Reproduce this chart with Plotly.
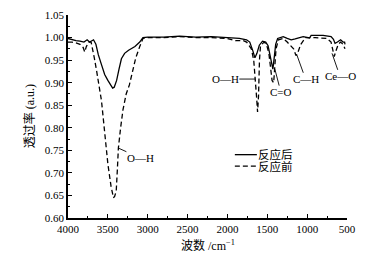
import plotly.graph_objects as go

# 反应后 (after reaction) - solid
wn_after = [4000, 3950, 3900, 3850, 3800, 3760, 3730, 3700, 3680, 3650, 3620, 3580, 3540, 3500,
            3460, 3440, 3420, 3390, 3360, 3330, 3290, 3240, 3160, 3100, 3060, 3000, 2800, 2600,
            2400, 2200, 2000, 1850, 1760, 1720, 1680, 1655, 1630, 1600, 1560, 1520, 1490, 1460,
            1430, 1410, 1395, 1370, 1300, 1250, 1200, 1150, 1050, 970, 950, 800, 700, 670, 650,
            620, 580, 550, 530, 525]
tr_after = [0.998, 0.995, 0.993, 0.992, 0.990, 0.995, 0.990, 0.993, 0.995, 0.985, 0.962, 0.940,
            0.918, 0.905, 0.893, 0.888, 0.890, 0.905, 0.930, 0.953, 0.965, 0.972, 0.980, 0.990,
            1.000, 1.001, 1.001, 1.003, 1.001, 1.002, 1.000, 0.998, 0.995, 0.990, 0.970, 0.955,
            0.965, 0.983, 0.992, 0.990, 0.982, 0.955, 0.930, 0.960, 0.985, 0.998, 1.002, 0.998,
            0.995, 0.997, 1.002, 0.999, 1.005, 1.005, 1.002, 0.996, 0.987, 0.990, 0.995, 0.990,
            0.990, 0.985]

# 反应前 (before reaction) - dashed
wn_before = [4000, 3950, 3900, 3850, 3810, 3790, 3770, 3740, 3710, 3690, 3670, 3640, 3610, 3580,
             3540, 3500, 3460, 3430, 3415, 3395, 3380, 3368, 3340, 3310, 3270, 3230, 3190, 3150,
             3100, 3060, 3000, 2800, 2600, 2400, 2200, 2000, 1900, 1800, 1760, 1700, 1670, 1650,
             1635, 1622, 1610, 1598, 1585, 1540, 1510, 1480, 1460, 1440, 1420, 1405, 1390, 1360,
             1300, 1250, 1210, 1170, 1140, 1120, 1080, 1020, 900, 750, 700, 680, 660, 640, 610,
             580, 550, 525]
tr_before = [0.990, 0.990, 0.988, 0.985, 0.978, 0.968, 0.980, 0.990, 0.990, 0.975, 0.955, 0.925,
             0.895, 0.860, 0.790, 0.720, 0.670, 0.645, 0.648, 0.660, 0.710, 0.755, 0.800, 0.840,
             0.875, 0.895, 0.925, 0.955, 0.980, 0.998, 1.000, 1.000, 1.002, 1.000, 1.000, 0.998,
             0.993, 0.993, 0.990, 0.975, 0.950, 0.910, 0.870, 0.835, 0.870, 0.950, 0.982, 0.990,
             0.985, 0.965, 0.930, 0.905, 0.900, 0.940, 0.975, 0.995, 0.998, 0.990, 0.982, 0.975,
             0.960, 0.965, 0.985, 1.000, 1.000, 0.998, 0.990, 0.972, 0.958, 0.970, 0.985, 0.990,
             0.985, 0.975]

x_ticks = [4000, 3500, 3000, 2500, 2000, 1500, 1000, 500]
y_ticks = [0.60, 0.65, 0.70, 0.75, 0.80, 0.85, 0.90, 0.95, 1.00, 1.05]

series_names = ["反应后", "反应前"]

# annotation labels: (text, wavenumber, transmittance, dx, dy)
labels = [
    ("O—H", 3368, 0.755, 22, 10),
    ("O—H", 1650, 0.908, -30, 0),
    ("C=O", 1405, 0.930, 6, 23),
    ("C—H", 1132, 0.963, 9, 25),
    ("Ce—O", 688, 0.965, 8, 23),
]

FONT = "Liberation Serif, Noto Sans CJK SC, serif"
styles = [dict(color="black", width=1.3), dict(color="black", width=1.3, dash="5px,3px")]

fig = go.Figure()
fig.add_trace(go.Scatter(x=wn_after, y=tr_after, mode="lines", name=series_names[0],
                         line=styles[0], showlegend=False))
fig.add_trace(go.Scatter(x=wn_before, y=tr_before, mode="lines", name=series_names[1],
                         line=styles[1], showlegend=False))

for text, x, y, dx, dy in labels:
    fig.add_annotation(x=x, y=y, text=text, showarrow=True, arrowhead=0, arrowwidth=0.9,
                       arrowcolor="black", ax=dx, ay=dy, axref="pixel", ayref="pixel",
                       font=dict(family=FONT, size=11, color="black"), standoff=0, borderpad=0)

# compact manual legend (paper coords)
leg_rows = [0.312, 0.256]
for name, style, ly in zip(series_names, styles, leg_rows):
    fig.add_shape(type="line", xref="paper", yref="paper", x0=0.598, x1=0.677, y0=ly, y1=ly,
                  line=style)
    fig.add_annotation(xref="paper", yref="paper", x=0.679, y=ly, text=name, showarrow=False,
                       xanchor="left", yanchor="middle", font=dict(family=FONT, size=11.5),
                       borderpad=0)

# axis titles
fig.add_annotation(xref="paper", yref="paper", x=0.5, y=-0.135, text="波数 /cm<sup>−1</sup>",
                   showarrow=False, xanchor="center", yanchor="middle",
                   font=dict(family=FONT, size=12))
fig.add_annotation(xref="paper", yref="paper", x=-0.137, y=0.5, text="透过率 (a.u.)",
                   showarrow=False, textangle=-90, xanchor="center", yanchor="middle",
                   font=dict(family=FONT, size=12))

fig.update_layout(
    width=383, height=261,
    margin=dict(l=68, r=36, t=15, b=43, autoexpand=False),
    paper_bgcolor="white", plot_bgcolor="white",
    font=dict(family=FONT, size=11, color="black"),
    showlegend=False,
    xaxis=dict(range=[4000, 500], autorange=False, tickvals=x_ticks, automargin=False,
               ticks="inside", ticklen=4, tickwidth=1, tickcolor="black",
               showline=True, linecolor="black", linewidth=1.5, showgrid=False, zeroline=False,
               minor=dict(ticks="inside", ticklen=2.5, dtick=250, tick0=500, tickcolor="black", showgrid=False)),
    yaxis=dict(range=[0.60, 1.05], autorange=False, tickvals=y_ticks, tickformat=".2f",
               automargin=False,
               ticks="inside", ticklen=4, tickwidth=1, tickcolor="black",
               showline=True, linecolor="black", linewidth=1.5, showgrid=False, zeroline=False,
               minor=dict(ticks="inside", ticklen=2.5, dtick=0.025, tick0=0.6, tickcolor="black", showgrid=False)),
)

fig.write_html("out.html", config={"displayModeBar": False},
               post_script="document.body.style.margin='0px';document.body.style.overflow='hidden';")
